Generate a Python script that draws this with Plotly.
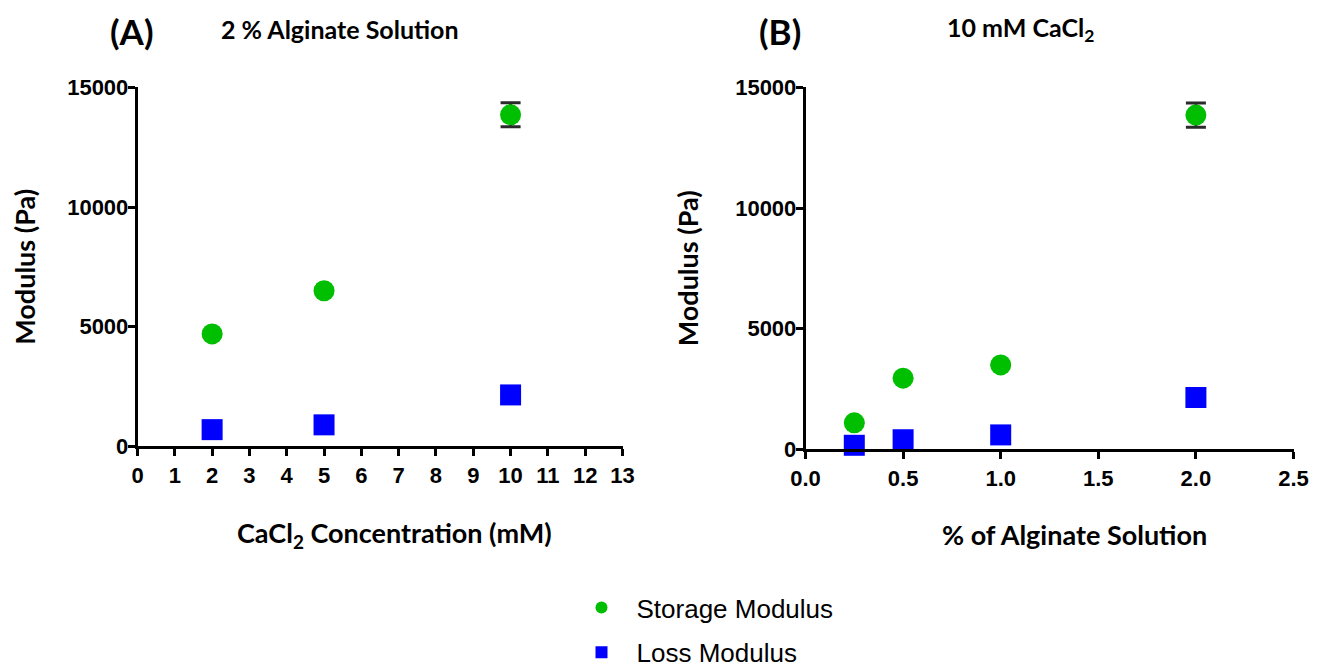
import plotly.graph_objects as go

# Panel A: 2 % alginate, varying CaCl2 (mM)
cacl2_mM = [2, 5, 10]
storage_A = [4700, 6500, 13850]
storage_A_err = [0, 0, 500]
loss_A = [700, 900, 2150]

# Panel B: 10 mM CaCl2, varying alginate (%)
alginate_pct = [0.25, 0.5, 1.0, 2.0]
storage_B = [1100, 2950, 3500, 13850]
storage_B_err = [0, 0, 0, 500]
loss_B = [170, 400, 600, 2150]

x_ticks_A = list(range(0, 14))
x_ticks_B = [0.0, 0.5, 1.0, 1.5, 2.0, 2.5]
y_ticks = [0, 5000, 10000, 15000]
y_tick_text = ["0", "5000", "10000", "15000"]

GREEN = "#00bf00"
BLUE = "#0000ff"
ERR = "#2a2a2a"
W, H = 1324, 668

fig = go.Figure()

fig.add_trace(go.Scatter(
    x=cacl2_mM, y=storage_A, mode="markers", name="Storage Modulus",
    legendgroup="s", marker=dict(symbol="circle", size=21, color=GREEN),
    error_y=dict(type="data", array=storage_A_err, visible=True,
                 color=ERR, thickness=3, width=10),
    cliponaxis=False, xaxis="x", yaxis="y"))
fig.add_trace(go.Scatter(
    x=cacl2_mM, y=loss_A, mode="markers", name="Loss Modulus",
    legendgroup="l", marker=dict(symbol="square", size=21, color=BLUE),
    cliponaxis=False, xaxis="x", yaxis="y"))
fig.add_trace(go.Scatter(
    x=alginate_pct, y=storage_B, mode="markers", name="Storage Modulus",
    legendgroup="s", showlegend=False,
    marker=dict(symbol="circle", size=21, color=GREEN),
    error_y=dict(type="data", array=storage_B_err, visible=True,
                 color=ERR, thickness=3, width=10),
    cliponaxis=False, xaxis="x2", yaxis="y2"))
fig.add_trace(go.Scatter(
    x=alginate_pct, y=loss_B, mode="markers", name="Loss Modulus",
    legendgroup="l", showlegend=False,
    marker=dict(symbol="square", size=21, color=BLUE),
    cliponaxis=False, xaxis="x2", yaxis="y2"))

tickfont = dict(family="Liberation Sans, Arial", size=22, color="black", weight="bold")
axis_common = dict(showline=True, linecolor="black", linewidth=2.5,
                   ticks="outside", ticklen=7, tickwidth=2.5, tickcolor="black",
                   showgrid=False, zeroline=False, tickfont=tickfont,
                   mirror=False, automargin=False)
title_font = dict(family="Lato", size=27, color="black", weight="bold")

def px_x(p):
    # map observed target pixel (x) to paper fraction
    return (p - 7.5) / W

def px_y(p):
    return 1 - ((p - 8.5) / 0.983) / H

fig.update_layout(
    width=W, height=H, paper_bgcolor="white", plot_bgcolor="white",
    margin=dict(l=0, r=0, t=0, b=0),
    font=dict(family="Liberation Sans, Arial", color="black"),
    xaxis=dict(domain=[px_x(137), px_x(622)], range=[0, 13],
               tickvals=x_ticks_A, anchor="y",
               **axis_common),
    yaxis=dict(domain=[px_y(448), px_y(88)], range=[0, 15000],
               tickvals=y_ticks, ticktext=y_tick_text, anchor="x",
               ticklabelstandoff=-5,
               title=dict(text="Modulus (Pa)", font=title_font, standoff=42),
               **axis_common),
    xaxis2=dict(domain=[px_x(805), px_x(1293)], range=[0, 2.5],
                tickvals=x_ticks_B, tickformat=".1f", anchor="y2",
                **axis_common),
    yaxis2=dict(domain=[px_y(451), px_y(88)], range=[0, 15000],
                tickvals=y_ticks, ticktext=y_tick_text, anchor="x2",
                ticklabelstandoff=-5,
                title=dict(text="Modulus (Pa)", font=title_font, standoff=29),
                **axis_common),
    showlegend=True,
    legend=dict(x=px_x(566), y=px_y(586), xanchor="left", yanchor="top",
                font=dict(family="Liberation Sans, Arial", size=26, color="black"),
                traceorder="grouped", tracegroupgap=8, itemwidth=60,
                bgcolor="rgba(0,0,0,0)", itemsizing="constant"),
)

annots = [
    dict(text="(A)", x=px_x(132), y=px_y(32), size=35),
    dict(text="2 % Alginate Solution", x=px_x(339), y=px_y(30), size=25),
    dict(text="(B)", x=px_x(779), y=px_y(32), size=35),
    dict(text="10 mM CaCl<sub>2</sub>", x=px_x(1020), y=px_y(30), size=25),
    dict(text="CaCl<sub>2</sub> Concentration (mM)", x=px_x(394), y=px_y(536), size=27),
    dict(text="% of Alginate Solution", x=px_x(1074), y=px_y(536), size=27),
]
for a in annots:
    fig.add_annotation(text=a["text"], x=a["x"], y=a["y"], xref="paper", yref="paper",
                       xanchor="center", yanchor="middle", showarrow=False,
                       font=dict(family="Lato", size=a["size"], color="black", weight="bold"))

fig.write_html("out.html")
